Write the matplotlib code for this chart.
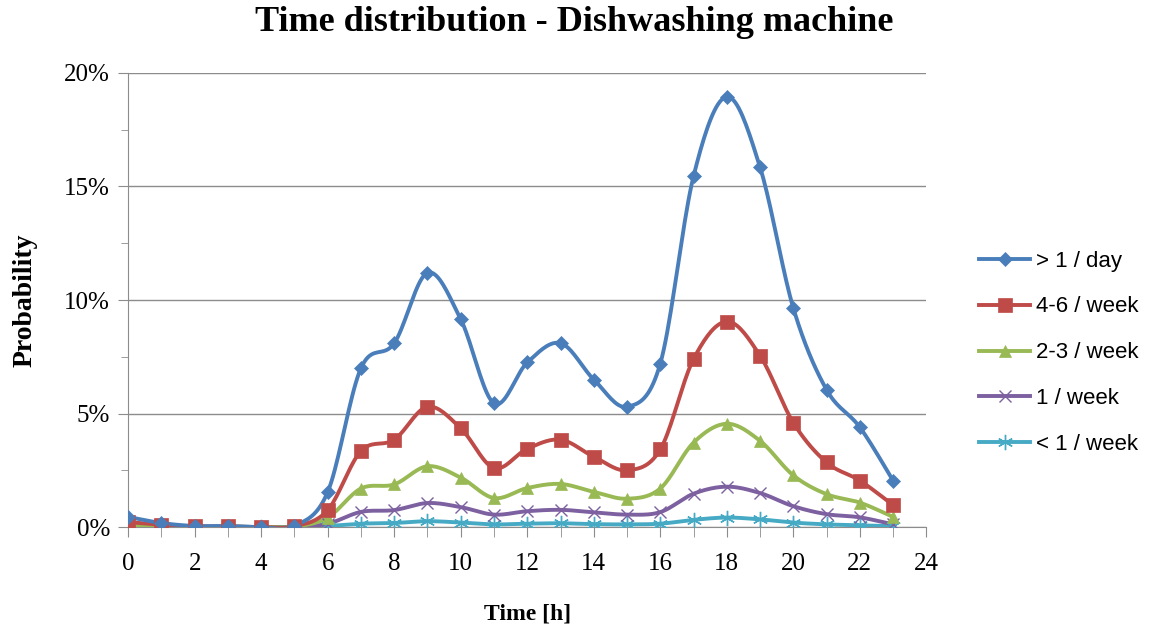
import numpy as np
import matplotlib
matplotlib.use("Agg")
import matplotlib.pyplot as plt
from matplotlib.ticker import MultipleLocator, FuncFormatter

hours = list(range(24))

# probabilities in %
more_than_daily = [0.45, 0.18, 0.05, 0.05, 0.0, 0.05, 1.55, 7.0, 8.1, 11.2, 9.15, 5.45,
                   7.25, 8.1, 6.5, 5.3, 7.2, 15.45, 18.95, 15.85, 9.65, 6.05, 4.4, 2.05]
four_six_week = [0.22, 0.1, 0.03, 0.03, 0.0, 0.03, 0.75, 3.35, 3.85, 5.3, 4.35, 2.6,
                 3.45, 3.85, 3.1, 2.5, 3.42, 7.4, 9.05, 7.55, 4.6, 2.85, 2.05, 0.97]
two_three_week = [0.1, 0.05, 0.02, 0.02, 0.0, 0.02, 0.42, 1.7, 1.88, 2.68, 2.18, 1.28,
                  1.72, 1.9, 1.55, 1.25, 1.7, 3.72, 4.55, 3.8, 2.28, 1.45, 1.08, 0.45]
once_week = [0.05, 0.02, 0.01, 0.01, 0.0, 0.01, 0.15, 0.67, 0.75, 1.06, 0.88, 0.55,
             0.7, 0.76, 0.65, 0.55, 0.66, 1.47, 1.78, 1.5, 0.92, 0.57, 0.43, 0.12]
less_week = [0.01, 0.01, 0.0, 0.0, 0.0, 0.0, 0.05, 0.15, 0.18, 0.26, 0.2, 0.12,
             0.15, 0.17, 0.13, 0.12, 0.15, 0.32, 0.42, 0.34, 0.2, 0.12, 0.08, 0.04]

labels = ["> 1 / day", "4-6 / week", "2-3 / week", "1 / week", "< 1 / week"]
colors = ["#4A7EBB", "#BE4B48", "#98B954", "#7D60A0", "#46AAC5"]
markers = ["D", "s", "^", "x", (6, 2, 0)]
msizes = [7, 10, 9, 9, 11]


def smooth(x, y, n=20):
    # Catmull-Rom style smoothing like Excel's smoothed lines
    x = np.asarray(x, float)
    y = np.asarray(y, float)
    px = np.concatenate([[x[0]], x, [x[-1]]])
    py = np.concatenate([[y[0]], y, [y[-1]]])
    xs, ys = [], []
    t = np.linspace(0, 1, n)
    for i in range(1, len(px) - 2):
        p0, p1, p2, p3 = [np.array([px[j], py[j]]) for j in (i - 1, i, i + 1, i + 2)]
        c1 = p1 + (p2 - p0) / 6
        c2 = p2 - (p3 - p1) / 6
        pts = ((1 - t) ** 3)[:, None] * p1 + (3 * (1 - t) ** 2 * t)[:, None] * c1 \
            + (3 * (1 - t) * t ** 2)[:, None] * c2 + (t ** 3)[:, None] * p2
        xs.extend(pts[:, 0])
        ys.extend(pts[:, 1])
    return np.array(xs), np.array(ys)


fig = plt.figure(figsize=(11.55, 6.29), dpi=100)
ax = fig.add_axes([0.111, 0.162, 0.691, 0.722])

series = [more_than_daily, four_six_week, two_three_week, once_week, less_week]
for vals, lab, c, m, ms in zip(series[::-1], labels[::-1], colors[::-1], markers[::-1], msizes[::-1]):
    yv = np.array(vals) / 100
    sx, sy = smooth(hours, yv)
    ax.plot(sx, sy, color=c, lw=2.8, zorder=3)
    mew = 1.0 if m in ("x",) or isinstance(m, tuple) else 0.5
    ax.plot(hours, yv, ls="none", marker=m, color=c, ms=ms, mew=mew, zorder=4)

handles = []
for lab, c, m, ms in zip(labels, colors, markers, msizes):
    mew = 1.0 if m in ("x",) or isinstance(m, tuple) else 0.5
    h, = ax.plot([], [], color=c, lw=2.8, marker=m, ms=ms, mew=mew, label=lab)
    handles.append(h)

ax.set_xlim(0, 24)
ax.set_ylim(0, 0.20)
ax.xaxis.set_major_locator(MultipleLocator(2))
ax.xaxis.set_minor_locator(MultipleLocator(1))
ax.yaxis.set_major_locator(MultipleLocator(0.05))
ax.yaxis.set_minor_locator(MultipleLocator(0.025))
ax.yaxis.set_major_formatter(FuncFormatter(lambda v, p: f"{v * 100:.0f}%"))

ax.grid(axis="y", which="major", color="#8c8c8c", lw=1.0)
ax.set_axisbelow(True)
for s in ["top", "right"]:
    ax.spines[s].set_visible(False)
for s in ["left", "bottom"]:
    ax.spines[s].set_color("#8c8c8c")
ax.tick_params(which="both", color="#8c8c8c", direction="out")
ax.tick_params(which="major", length=7, labelsize=18)
ax.tick_params(axis="y", which="major", pad=6)
ax.tick_params(axis="x", which="major", pad=12)
ax.tick_params(which="minor", length=5)
ax.tick_params(axis="x", which="minor", length=7)
for lbl in ax.get_xticklabels() + ax.get_yticklabels():
    lbl.set_fontfamily("Liberation Serif")

ax.set_xlabel("Time [h]", fontfamily="Liberation Serif", fontweight="bold", fontsize=17, labelpad=20)
ax.set_ylabel("Probability", fontfamily="Liberation Serif", fontweight="bold", fontsize=20, labelpad=19)
fig.suptitle("Time distribution - Dishwashing machine", x=0.497, y=0.99, va="top",
             fontfamily="Liberation Serif", fontweight="bold", fontsize=26)

fig.legend(handles=handles, loc="center left", bbox_to_anchor=(0.8306, 0.439), frameon=False,
           prop={"family": "Liberation Sans", "size": 16}, handlelength=2.3,
           labelspacing=1.12, handletextpad=0.25)

fig.savefig("out.png", dpi=100)
